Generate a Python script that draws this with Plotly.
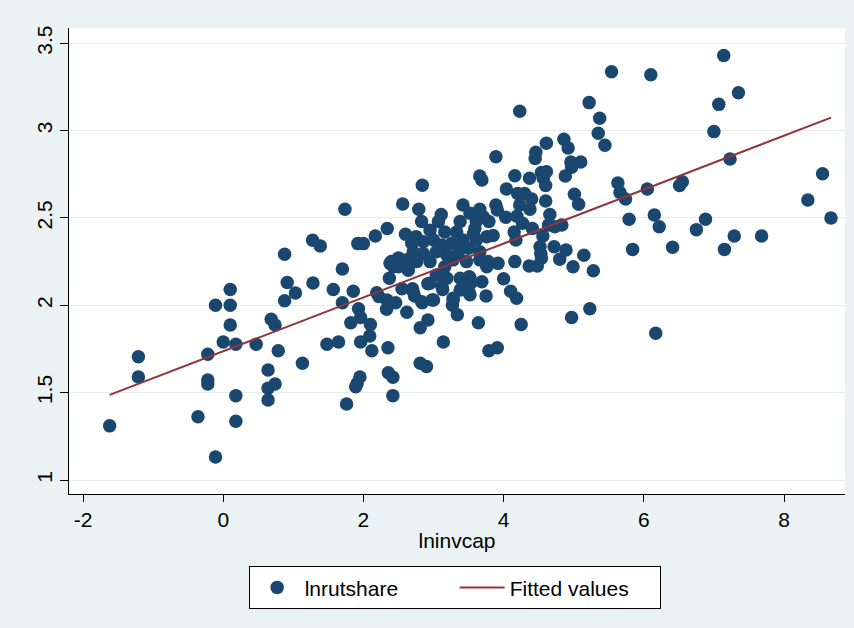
import numpy as np
import plotly.graph_objects as go

# lninvcap (x) and lnrutshare (y)
lninvcap = [
    -1.62, -1.21, -1.21, -0.11, 0.10, 0.10, 0.10, 0.00, 0.18, -0.22, -0.22, -0.22, -0.36, -0.11,
    0.18, 0.18, 0.47, 0.685, 0.74, 0.785, 0.64, 0.64, 0.74, 0.64, 1.13, 0.876, 0.913, 1.03, 0.876,
    2.84, 1.736, 2.56, 2.79, 3.11, 3.07, 1.275, 1.384, 1.92, 2.00, 2.17, 2.34, 2.60, 1.70, 1.28,
    1.57, 1.855, 1.70, 1.93, 2.37, 2.19, 2.22, 2.38, 2.50, 2.62, 2.43, 2.55, 2.70, 2.73, 2.335,
    2.46, 2.84, 2.98, 3.13, 2.92,
    3.42, 3.66, 2.83, 3.38, 3.52, 3.71, 3.59, 3.33, 3.16, 2.95, 2.75, 2.69, 2.855, 3.00, 3.12,
    3.26, 3.42, 3.61, 3.76, 3.50, 3.66, 3.35, 3.19, 3.04, 2.855, 2.71, 2.76, 2.95, 3.16, 3.28,
    3.47, 3.66, 3.76, 2.40, 2.50, 2.64, 3.04, 3.19, 2.95, 3.38, 3.52, 3.42, 3.69, 3.12, 2.71,
    2.83, 3.00, 3.28, 3.52, 3.40,
    5.37, 5.35, 5.445, 4.86, 4.92, 4.61, 4.46, 4.45, 4.96, 5.10, 4.97, 4.88, 3.89, 3.66, 3.69,
    4.16, 4.37, 4.54, 4.61, 4.565, 4.60, 4.04, 4.20, 4.30, 4.40, 4.23, 4.375, 4.60, 5.01, 5.07,
    3.89, 3.91, 4.03, 4.19, 4.27, 4.66, 4.83, 4.73, 4.64, 4.41, 4.15, 3.61, 3.79, 3.85, 3.57,
    4.175, 4.56, 4.52, 4.72, 4.89, 4.53, 4.80, 5.145, 4.99, 5.28, 4.54, 4.365, 4.48, 4.16, 3.92,
    3.78, 4.00, 4.10, 4.185, 3.75, 3.51, 3.53, 3.51, 3.38, 3.28, 5.23,
    3.27, 3.34, 3.64, 4.25, 4.97, 3.14, 3.79, 3.91,
    1.96, 1.82, 2.10, 2.09, 1.96, 2.12, 1.645, 1.48, 2.35, 1.95, 1.89, 1.91, 1.76, 2.355, 2.42,
    2.42, 2.81, 2.90, 2.81, 2.92, 2.62, 2.33,
    7.14, 5.54, 6.10, 7.35, 7.07, 7.00, 7.23, 5.63, 5.66, 5.74, 6.05, 6.51, 6.55, 6.15, 6.22,
    5.79, 5.84, 6.41, 6.75, 6.88, 7.15, 7.29, 7.68, 8.34, 8.55, 8.67, 6.17, 4.23, 5.22,
]
lnrutshare = [
    1.31, 1.706, 1.59, 2.00, 2.09, 2.00, 1.887, 1.79, 1.777, 1.72, 1.572, 1.55, 1.362, 1.132,
    1.483, 1.336, 1.777, 1.92, 1.887, 1.74, 1.63, 1.525, 1.55, 1.458, 1.668, 2.292, 2.13, 2.07, 2.026,
    2.687, 2.55, 2.58, 2.55, 2.52, 2.48, 2.372, 2.34, 2.353, 2.353, 2.397, 2.44, 2.406, 2.208, 2.128,
    2.09, 2.08, 2.015, 1.98, 2.155, 2.072, 2.05, 2.24, 2.27, 2.26, 2.22, 2.095, 2.095, 2.053, 2.03,
    2.015, 2.015, 2.03, 2.09, 2.124,
    2.574, 2.55, 2.48, 2.48, 2.527, 2.507, 2.44, 2.42, 2.42, 2.43, 2.393, 2.355, 2.364, 2.374, 2.345,
    2.355, 2.374, 2.374, 2.393, 2.326, 2.307, 2.297, 2.288, 2.307, 2.297, 2.307, 2.25, 2.25, 2.22, 2.26,
    2.25, 2.26, 2.22, 2.25, 2.22, 2.20, 2.173, 2.155, 2.126, 2.155, 2.155, 2.107, 2.135, 2.107, 2.078,
    2.02, 2.03, 2.04, 2.06, 2.335,
    3.07, 2.985, 2.916, 2.95, 2.90, 2.927, 2.876, 2.84, 2.82, 2.82, 2.79, 2.74, 2.85, 2.74, 2.717,
    2.742, 2.727, 2.76, 2.765, 2.727, 2.685, 2.666, 2.64, 2.64, 2.608, 2.574, 2.55, 2.597, 2.635, 2.578,
    2.574, 2.545, 2.504, 2.51, 2.47, 2.52, 2.46, 2.45, 2.46, 2.44, 2.42, 2.48, 2.48, 2.40, 2.41,
    2.374, 2.397, 2.335, 2.335, 2.316, 2.297, 2.263, 2.286, 2.22, 2.198, 2.27, 2.225, 2.225, 2.25, 2.24,
    2.25, 2.152, 2.08, 2.04, 2.053, 2.164, 2.126, 2.072, 2.088, 2.03, 1.98,
    2.00, 1.946, 1.90, 1.89, 1.93, 1.79, 1.74, 1.757,
    1.93, 1.90, 1.89, 1.824, 1.79, 1.74, 1.79, 1.777, 1.757, 1.59, 1.534, 1.553, 1.435, 1.614, 1.588,
    1.483, 1.668, 1.65, 1.872, 1.916, 1.96, 1.977,
    3.43, 3.337, 3.32, 3.217, 3.15, 2.994, 2.837, 2.70, 2.645, 2.608, 2.666, 2.685, 2.707, 2.517, 2.45,
    2.492, 2.32, 2.332, 2.433, 2.492, 2.32, 2.397, 2.397, 2.603, 2.753, 2.50, 1.84, 3.11, 3.16,
]

x_ticks = [-2, 0, 2, 4, 6, 8]
x_tick_text = ["-2", "0", "2", "4", "6", "8"]
y_ticks = [1, 1.5, 2, 2.5, 3, 3.5]
y_tick_text = ["1", "1.5", "2", "2.5", "3", "3.5"]

x = np.array(lninvcap)
y = np.array(lnrutshare)

# Fitted values: OLS of lnrutshare on lninvcap
slope, intercept = np.polyfit(x, y, 1)
fit_x = np.array([x.min(), x.max()])
fit_y = intercept + slope * fit_x

FONT = "Liberation Sans, Arial, Helvetica, sans-serif"
NAVY = "#1A476F"
MAROON = "#90353B"
BG = "#EAF2F3"

fig = go.Figure()
fig.add_trace(go.Scatter(
    x=x, y=y, mode="markers", name="lnrutshare",
    marker=dict(color=NAVY, size=13.5, line=dict(width=0)),
))
fig.add_trace(go.Scatter(
    x=fit_x, y=fit_y, mode="lines", name="Fitted values",
    line=dict(color=MAROON, width=2),
))

fig.update_layout(
    width=854, height=628,
    margin=dict(l=69, r=9, t=28, b=134),
    paper_bgcolor=BG, plot_bgcolor="white",
    font=dict(family=FONT, size=21, color="black"),
    showlegend=True,
    legend=dict(
        orientation="h", x=0.497, xanchor="center", y=-0.155, yanchor="top",
        bgcolor="white", bordercolor="black", borderwidth=1,
        font=dict(size=21), entrywidth=145, itemwidth=45,
    ),
    xaxis=dict(
        range=[-2.2, 8.87], tickvals=x_ticks, ticktext=x_tick_text,
        showgrid=False, zeroline=False,
        showline=True, linecolor="black", linewidth=1.2,
        ticks="outside", ticklen=7, tickwidth=1.2, tickcolor="black",
        title=dict(text="lninvcap", standoff=3, font=dict(size=21)),
        tickfont=dict(size=21),
    ),
    yaxis=dict(
        range=[0.92, 3.587], tickvals=y_ticks, ticktext=y_tick_text,
        showgrid=True, gridcolor="#E3ECEF", gridwidth=1.2, zeroline=False,
        showline=True, linecolor="black", linewidth=1.2,
        ticks="outside", ticklen=8, tickwidth=1.2, tickcolor="black",
        tickangle=-90, tickfont=dict(size=21), ticklabelstandoff=0,
    ),
)

fig.write_html("out.html")
